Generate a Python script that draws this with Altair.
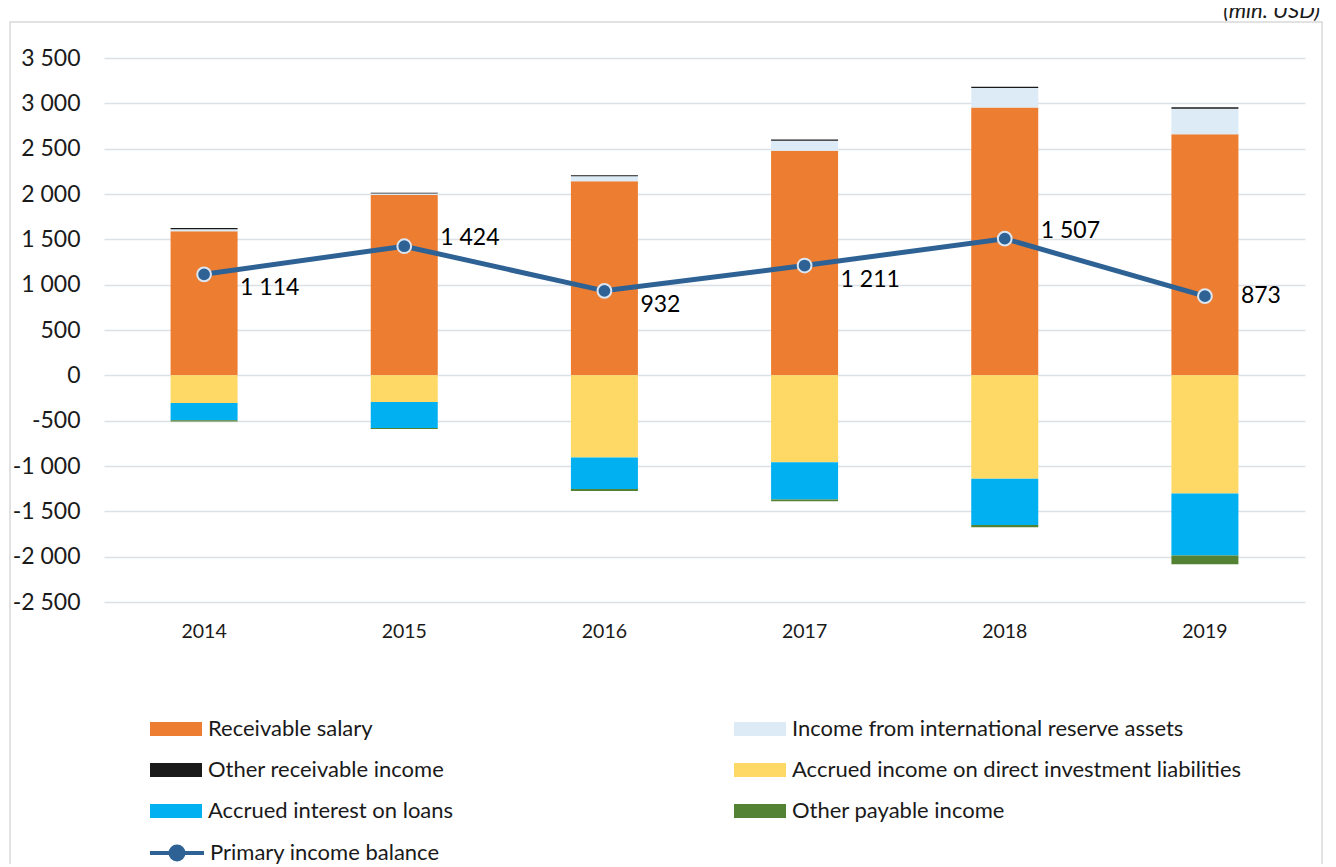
import altair as alt
import pandas as pd

years = ["2014", "2015", "2016", "2017", "2018", "2019"]
receivable_salary = [1590, 1990, 2140, 2478, 2953, 2660]
reserve_income = [22, 15, 55, 110, 215, 281]
other_receivable = [12, 10, 12, 13, 14, 15]
direct_investment = [-305, -295, -905, -960, -1140, -1302]
loans_interest = [-190, -286, -350, -410, -510, -684]
other_payable = [-15, -10, -20, -20, -25, -97]
balance = [1114, 1424, 932, 1211, 1507, 873]
label_side = ["below", "above", "below", "below", "above", "right"]
unit_note = ["(mln. USD)"]

series_names = [
    "Receivable salary",
    "Income from international reserve assets",
    "Other receivable income",
    "Accrued income on direct investment liabilities",
    "Accrued interest on loans",
    "Other payable income",
]
series_colors = ["#ED7D31", "#DDEBF7", "#1A1A1A", "#FFD966", "#00B0F0", "#548235"]
# legend fills column by column: left column first, then right column
legend_order = [0, 2, 4, 1, 3, 5]
line_name = "Primary income balance"
LINE_COLOR = "#2E6294"
FONT = "Lato"

series_values = [receivable_salary, reserve_income, other_receivable,
                 direct_investment, loans_interest, other_payable]
rows = []
for k, (name, vals) in enumerate(zip(series_names, series_values)):
    for y, v in zip(years, vals):
        rows.append({"year": y, "series": name, "value": v, "order": k})
bar_df = pd.DataFrame(rows)

bal_df = pd.DataFrame({"year": years, "balance": balance, "side": label_side,
                       "series": [line_name] * len(years)})

x_enc = alt.X("year:O", title=None,
              scale=alt.Scale(paddingInner=0, paddingOuter=0),
              axis=alt.Axis(labelAngle=0, ticks=False, domain=False, labelPadding=20,
                            labelFontSize=19.5, labelFont=FONT, labelColor="#1A1A1A"))
y_scale = alt.Scale(domain=[-2500, 3500], nice=False, zero=True)

bars = alt.Chart(bar_df).mark_bar(size=67).encode(
    x=x_enc,
    y=alt.Y("value:Q", stack="zero", scale=y_scale, title=None,
            axis=alt.Axis(values=list(range(-2500, 3501, 500)), ticks=False, domain=False,
                          labelPadding=24, labelFontSize=23, labelFont=FONT,
                          labelColor="#1A1A1A", gridColor="#DCE0E7", gridWidth=1.5,
                          labelExpr="(datum.value < 0 ? '-' : '') + replace(format(abs(datum.value), ','), ',', ' ')")),
    color=alt.Color("series:N",
                    scale=alt.Scale(domain=[series_names[i] for i in legend_order],
                                    range=[series_colors[i] for i in legend_order]),
                    legend=alt.Legend(title=None, orient="none", legendX=46, legendY=661,
                                      columns=2, symbolType="M-1,-0.27H1V0.27H-1Z",
                                      symbolSize=2704, symbolStrokeWidth=0, labelFontSize=22,
                                      labelFont=FONT, labelColor="#1A1A1A", labelOffset=6,
                                      clipHeight=20, rowPadding=19, columnPadding=280,
                                      labelLimit=700, padding=0)),
    order=alt.Order("order:Q"),
)

line = alt.Chart(bal_df).mark_line(color=LINE_COLOR, strokeWidth=5).encode(
    x=alt.X("year:O"), y=alt.Y("balance:Q"))

points = alt.Chart(bal_df).mark_point(filled=True, size=190, stroke="#DCE6F2",
                                      strokeWidth=2, opacity=1).encode(
    x=alt.X("year:O"), y=alt.Y("balance:Q"),
    fill=alt.Fill("series:N", scale=alt.Scale(domain=[line_name], range=[LINE_COLOR]),
                  legend=alt.Legend(title=None, orient="none", legendX=44, legendY=785,
                                    symbolType="M-1,0H1M0.24,0A0.24,0.24 0 1,1 -0.24,0A0.24,0.24 0 1,1 0.24,0Z",
                                    symbolSize=2916, symbolStrokeColor=LINE_COLOR,
                                    symbolStrokeWidth=4, labelFontSize=22, labelFont=FONT,
                                    labelColor="#1A1A1A", labelOffset=4, clipHeight=20,
                                    labelLimit=700, padding=0)),
)

def label_layer(side, dy):
    return alt.Chart(bal_df).transform_filter(
        alt.datum.side == side
    ).transform_calculate(
        txt="replace(format(datum.balance, ','), ',', ' ')"
    ).mark_text(align="left", baseline="middle", dx=36, dy=dy, fontSize=23,
                font=FONT, color="#000000").encode(
        x=alt.X("year:O"), y=alt.Y("balance:Q"), text="txt:N")

frame = alt.Chart(alt.Data(values=[{}])).mark_rect(
    fill="transparent", stroke="#D9D9D9", strokeWidth=1.5).encode(
    x=alt.value(-94), x2=alt.value(1218), y=alt.value(-36), y2=alt.value(830))

note = alt.Chart(pd.DataFrame({"note": unit_note})).mark_text(
    align="right", baseline="alphabetic", fontSize=22, fontStyle="italic",
    font=FONT, color="#1A1A1A").encode(
    x=alt.value(1216), y=alt.value(-40), text="note:N")

chart = alt.layer(
    frame, bars, line, points,
    label_layer("below", 14), label_layer("above", -8), label_layer("right", 0), note
).properties(
    width=1201, height=544,
    autosize=alt.AutoSizeParams(type="none"),
    padding={"left": 96, "top": 50, "right": 22, "bottom": 262},
).configure_view(strokeWidth=0)

chart.save("out.html", embed_options={"renderer": "svg", "actions": False})
